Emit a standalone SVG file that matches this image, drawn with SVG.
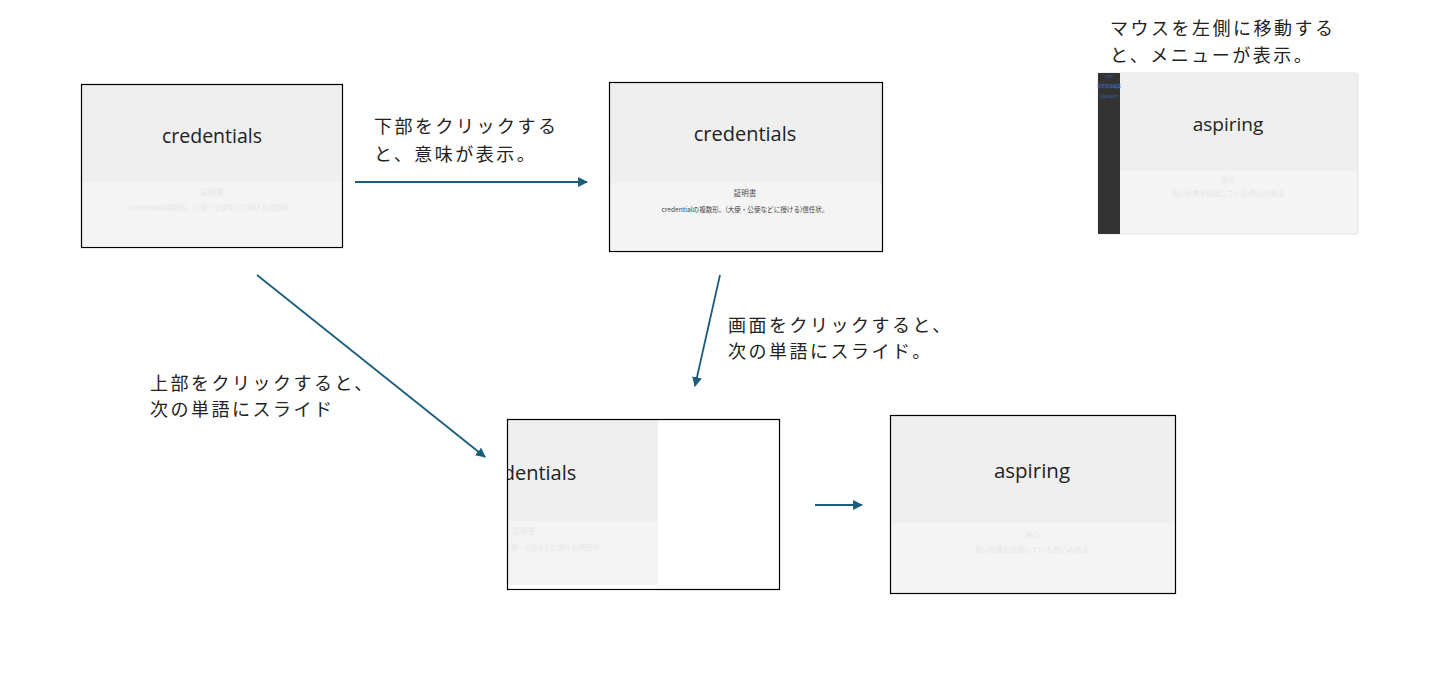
<svg xmlns="http://www.w3.org/2000/svg" width="1434" height="695" viewBox="0 0 1434 695">
<style>
.lbl{font-family:"Noto Sans CJK JP","Noto Sans",sans-serif;font-size:18px;fill:#222;letter-spacing:2.5px}
.word{font-family:"Open Sans","Noto Sans",sans-serif;fill:#222;text-anchor:middle}
.meaning{font-family:"Noto Sans CJK JP",sans-serif;text-anchor:middle}
.faint{fill:#e6e6e6}
.dark{fill:#444}
.frame{fill:none;stroke:#000;stroke-width:1.2}
.top{fill:#efefef}
.bot{fill:#f4f4f4}
.conn{stroke:#1b5e7b;stroke-width:1.8;fill:none;marker-end:url(#ah)}
.menu{font-family:"Noto Sans CJK JP",sans-serif;font-size:4px;fill:#3d6fd6;text-anchor:middle}
</style>
<defs>
<marker id="ah" viewBox="0 0 10 10" refX="9" refY="5" markerWidth="5.5" markerHeight="5.5" orient="auto" markerUnits="strokeWidth">
<path d="M0,0 L10,5 L0,10 z" fill="#1b5e7b"/>
</marker>
<clipPath id="clipD"><rect x="508" y="420" width="150" height="165"/></clipPath>
</defs>
<rect width="1434" height="695" fill="#fff"/>

<g id="node-credentials-initial">
<rect class="top" x="82" y="85" width="260" height="97"/>
<rect class="bot" x="82" y="182" width="260" height="64"/>
<text class="word" x="212" y="143" font-size="19.5">credentials</text>
<text class="meaning faint" x="212" y="195" font-size="7.5">証明書</text>
<text class="meaning faint" x="212" y="210" font-size="7" textLength="167" lengthAdjust="spacingAndGlyphs">credentialの複数形。(大使・公使などに授ける)信任状。</text>
<rect class="frame" x="81.5" y="84.5" width="261" height="163"/>
</g>

<g id="node-credentials-meaning">
<rect class="top" x="610" y="83" width="272" height="100"/>
<rect class="bot" x="610" y="183" width="272" height="67"/>
<text class="word" x="745" y="141" font-size="20">credentials</text>
<text class="meaning dark" x="745" y="196" font-size="7.5">証明書</text>
<text class="meaning dark" x="745" y="212" font-size="7" textLength="167" lengthAdjust="spacingAndGlyphs">credentialの複数形。(大使・公使などに授ける)信任状。</text>
<rect class="frame" x="609.5" y="82.5" width="273" height="169"/>
</g>

<g id="node-menu">
<text class="lbl" x="1110" y="35">マウスを左側に移動する</text>
<text class="lbl" x="1110" y="62">と、メニューが表示。</text>
<rect x="1098" y="73" width="260" height="161" rx="2" fill="#f4f4f4" stroke="#e2e2e2" stroke-width="1"/>
<rect class="top" x="1120" y="74" width="237" height="97"/>
<rect x="1098" y="73" width="22" height="161" fill="#333"/>
<text class="menu" x="1109" y="78">TOP</text>
<text class="menu" x="1109" y="88">単語登録編集</text>
<text class="menu" x="1109" y="98">LOG OUT</text>
<text class="word" x="1228" y="131" font-size="19">aspiring</text>
<text class="meaning faint" x="1228" y="182" font-size="7">熱心</text>
<text class="meaning faint" x="1228" y="196" font-size="7">高い目標を目指している;野心のある</text>
</g>

<g id="node-credentials-sliding">
<rect x="508" y="420" width="271" height="169" fill="#fff"/>
<g clip-path="url(#clipD)">
<rect class="top" x="388" y="420" width="270" height="101"/>
<rect class="bot" x="388" y="521" width="270" height="64"/>
<text class="word" x="525" y="480" font-size="20">credentials</text>
<text class="meaning faint" x="524" y="534" font-size="7.5">証明書</text>
<text class="meaning faint" x="522" y="550" font-size="7" textLength="167" lengthAdjust="spacingAndGlyphs">credentialの複数形。(大使・公使などに授ける)信任状。</text>
</g>
<rect class="frame" x="507.5" y="419.5" width="272" height="170"/>
</g>

<g id="node-aspiring">
<rect class="top" x="891" y="416" width="284" height="107"/>
<rect class="bot" x="891" y="523" width="284" height="70"/>
<text class="word" x="1032" y="478" font-size="20.5">aspiring</text>
<text class="meaning faint" x="1032" y="537" font-size="7">熱心</text>
<text class="meaning faint" x="1032" y="552" font-size="7">高い目標を目指している;野心のある</text>
<rect class="frame" x="890.5" y="415.5" width="285" height="178"/>
</g>

<g id="labels">
<text class="lbl" x="374" y="133">下部をクリックする</text>
<text class="lbl" x="374" y="161">と、意味が表示。</text>
<text class="lbl" x="728" y="332">画面をクリックすると、</text>
<text class="lbl" x="728" y="358">次の単語にスライド。</text>
<text class="lbl" x="150" y="390">上部をクリックすると、</text>
<text class="lbl" x="150" y="416">次の単語にスライド</text>
</g>

<g id="connectors">
<line class="conn" x1="355" y1="182" x2="587" y2="182"/>
<line class="conn" x1="720" y1="275" x2="695" y2="386"/>
<line class="conn" x1="257" y1="275" x2="485" y2="457"/>
<line class="conn" x1="815" y1="505" x2="862" y2="505"/>
</g>
</svg>
